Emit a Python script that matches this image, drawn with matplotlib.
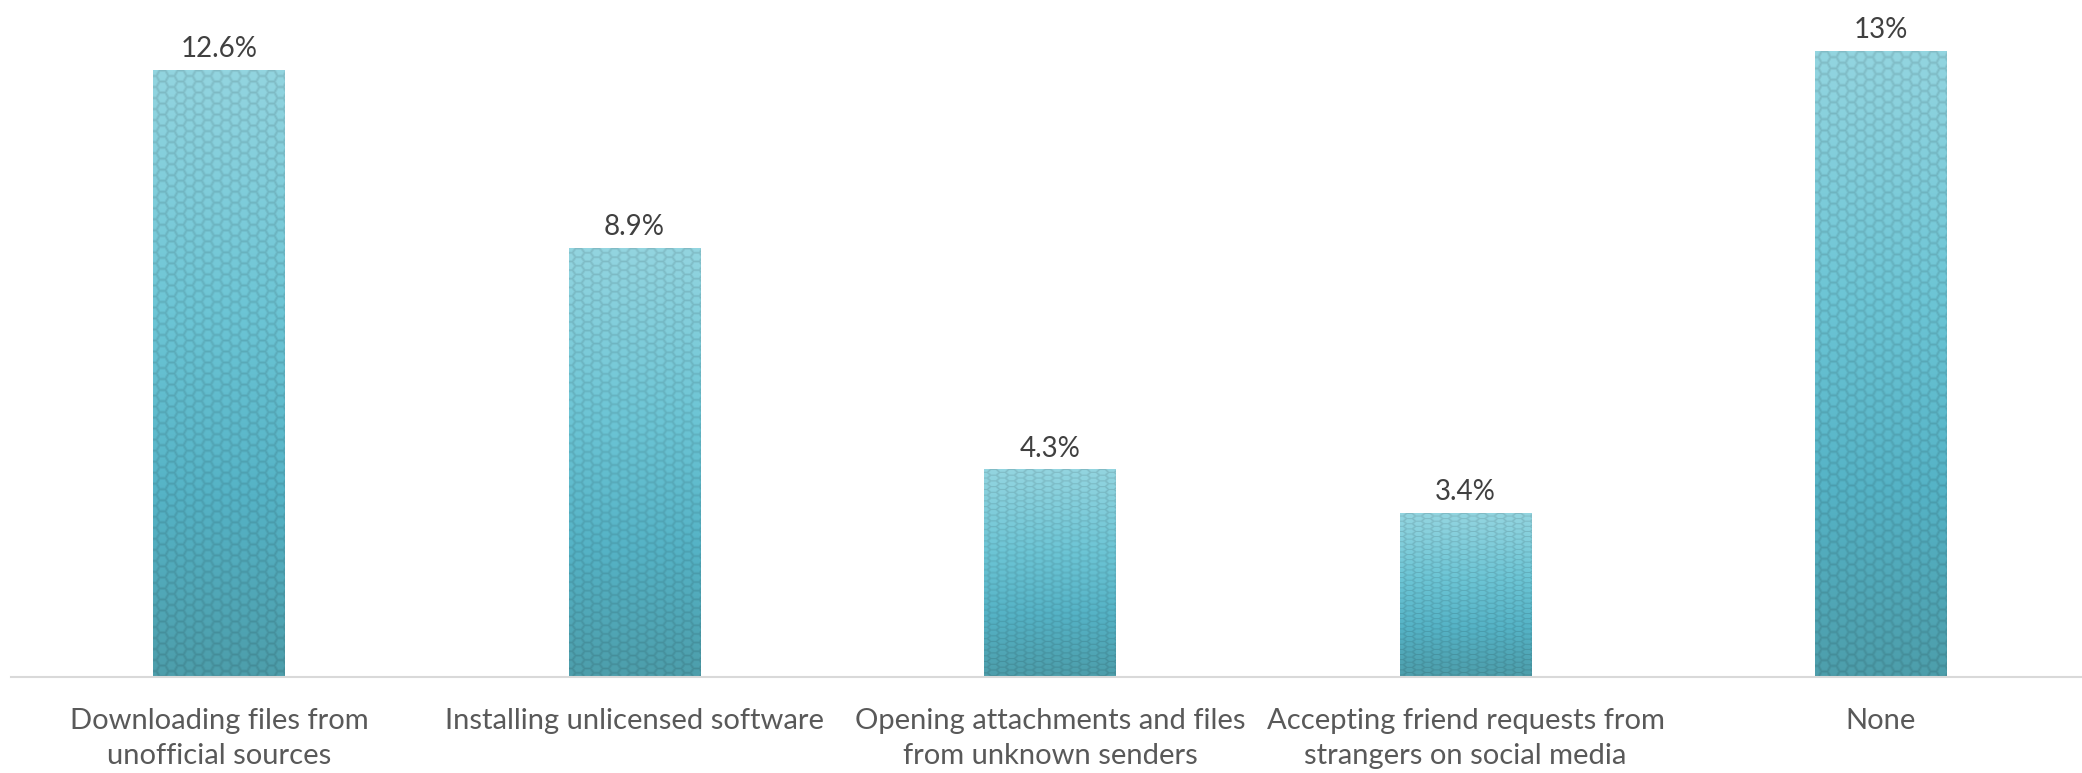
import numpy as np
import matplotlib
matplotlib.use("Agg")
import matplotlib.pyplot as plt
from matplotlib.colors import LinearSegmentedColormap

categories = [
    "Downloading files from\nunofficial sources",
    "Installing unlicensed software",
    "Opening attachments and files\nfrom unknown senders",
    "Accepting friend requests from\nstrangers on social media",
    "None",
]
values = [12.6, 8.9, 4.3, 3.4, 13.0]
value_labels = ["12.6%", "8.9%", "4.3%", "3.4%", "13%"]

plt.rcParams["font.family"] = ["Lato", "DejaVu Sans"]

fig = plt.figure(figsize=(20.82, 7.73), dpi=100)
ax = fig.add_axes([11.3 / 2082, 96 / 773, 2077.5 / 2082, 674 / 773])
ax.set_xlim(-0.5, len(values) - 0.5)
ax.set_ylim(0, 14)

bar_w = 0.316
grad = LinearSegmentedColormap.from_list(
    "teal", [(0.0, "#4d9eab"), (0.3, "#55b3c6"), (0.6, "#6cc5d5"), (1.0, "#93d5e0")])


def hex_edges(h, w, r=6.0, sy=1.0):
    # distance of each pixel to the nearest honeycomb edge (flat-top cells),
    # with the pattern squeezed vertically by sy
    yy, xx = np.mgrid[0:h, 0:w].astype(float)
    yy = yy / sy
    cw = 3 * r
    ch = np.sqrt(3) * r
    best = None
    for ox, oy in [(0, 0), (cw / 2, ch / 2)]:
        cx = np.round((xx - ox) / cw) * cw + ox
        cy = np.round((yy - oy) / ch) * ch + oy
        dx, dy = xx - cx, yy - cy
        d2 = dx ** 2 + dy ** 2
        if best is None:
            best = (d2, dx, dy)
        else:
            m = d2 < best[0]
            best = (np.where(m, d2, best[0]), np.where(m, dx, best[1]),
                    np.where(m, dy, best[2]))
    _, dx, dy = best
    proj = np.zeros_like(dx)
    for ang in (30, 90, 150):
        a = np.deg2rad(ang)
        proj = np.maximum(proj, np.abs(dx * np.cos(a) + dy * np.sin(a)))
    return np.sqrt(3) / 2 * r - proj


fig.canvas.draw()
for i, v in enumerate(values):
    x0, x1 = i - bar_w / 2, i + bar_w / 2
    p0 = ax.transData.transform((x0, 0))
    p1 = ax.transData.transform((x1, v))
    pw, ph = int(round(p1[0] - p0[0])), int(round(p1[1] - p0[1]))
    t = np.linspace(1, 0, ph)[:, None] * np.ones((1, pw))
    rgb = grad(t)[..., :3]
    # texture is stretched with the bar height
    sy = (5.7 + 0.0133 * (ph - 207)) / (np.sqrt(3) * 6.0)
    edge = hex_edges(ph, pw, sy=sy)
    shade = 1.0 - 0.12 * np.clip((2.0 - edge) / 2.0, 0, 1)
    rgb = np.clip(rgb * shade[..., None], 0, 1)
    ax.imshow(rgb, extent=(x0, x1, 0, v), aspect="auto", zorder=2,
              interpolation="antialiased")
    ax.text(i, v + 0.17, value_labels[i], ha="center", va="bottom",
            fontsize=20, color="#404040")

ax.set_xlim(-0.5, len(values) - 0.5)
ax.set_ylim(0, 14)
ax.set_xticks(range(len(values)))
ax.set_xticklabels(categories, fontsize=21, color="#595959", linespacing=1.45)
ax.tick_params(axis="x", length=0, pad=22)
ax.set_yticks([])
for s in ["top", "right", "left"]:
    ax.spines[s].set_visible(False)
ax.spines["bottom"].set_color("#d9d9d9")
ax.spines["bottom"].set_linewidth(1.5)

fig.savefig("out.png", dpi=100)
